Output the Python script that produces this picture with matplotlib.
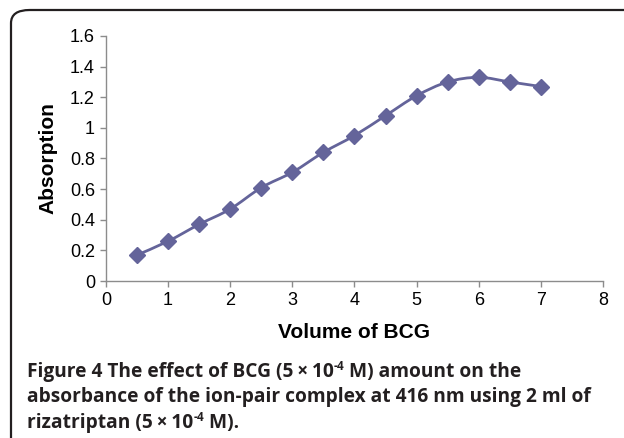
import matplotlib
matplotlib.use("Agg")
import matplotlib.pyplot as plt
from matplotlib.path import Path
from matplotlib.patches import PathPatch, FancyBboxPatch
import numpy as np

volume = [0.5, 1, 1.5, 2, 2.5, 3, 3.5, 4, 4.5, 5, 5.5, 6, 6.5, 7]
absorption = [0.17, 0.26, 0.37, 0.47, 0.61, 0.71, 0.84, 0.95, 1.08, 1.21, 1.30, 1.33, 1.30, 1.27]
x_ticks = [0, 1, 2, 3, 4, 5, 6, 7, 8]
y_ticks = [0, 0.2, 0.4, 0.6, 0.8, 1, 1.2, 1.4, 1.6]
y_ticklabels = ["0", "0.2", "0.4", "0.6", "0.8", "1", "1.2", "1.4", "1.6"]

W, H = 624, 438
fig = plt.figure(figsize=(W / 100, H / 100), dpi=100)
fig.patch.set_facecolor("white")

# rounded border
border = FancyBboxPatch((11 / W, -0.2), 1.2, (H - 10) / H + 0.2,
                        boxstyle="round,pad=0,rounding_size=0.03",
                        transform=fig.transFigure, fill=False,
                        edgecolor="#231f20", linewidth=1.6, clip_on=False)
fig.patches.append(border)

ax = fig.add_axes([106 / W, 1 - 281 / H, (603 - 106) / W, (281 - 36) / H])
ax.set_xlim(0, 8)
ax.set_ylim(0, 1.6)

color = "#64649a"
pts = np.column_stack([volume, absorption])
verts = [tuple(pts[0])]
codes = [Path.MOVETO]
n = len(pts)
for i in range(n - 1):
    p0 = pts[i - 1] if i > 0 else pts[i]
    p1 = pts[i]
    p2 = pts[i + 1]
    p3 = pts[i + 2] if i + 2 < n else pts[i + 1]
    c1 = p1 + (p2 - p0) / 6
    c2 = p2 - (p3 - p1) / 6
    verts += [tuple(c1), tuple(c2), tuple(p2)]
    codes += [Path.CURVE4] * 3
ax.add_patch(PathPatch(Path(verts, codes), fill=False, edgecolor=color, linewidth=2, zorder=2))
ax.plot(volume, absorption, linestyle="none", marker="D", markersize=8,
        color=color, markeredgecolor=color, zorder=3)

for s in ["top", "right"]:
    ax.spines[s].set_visible(False)
for s in ["left", "bottom"]:
    ax.spines[s].set_color("#8c8c8c")
    ax.spines[s].set_linewidth(1)

font = "Liberation Sans"
ax.set_xticks(x_ticks)
ax.set_xticklabels([str(t) for t in x_ticks], fontfamily=font, fontsize=13)
ax.set_yticks(y_ticks)
ax.set_yticklabels(y_ticklabels, fontfamily=font, fontsize=13)
ax.tick_params(axis="both", direction="out", length=4, width=1, color="#8c8c8c",
               labelcolor="#000000", pad=4)

ax.set_xlabel("Volume of BCG", fontfamily=font, fontsize=15, fontweight="bold", labelpad=10)
ax.set_ylabel("Absorption", fontfamily=font, fontsize=15, fontweight="bold", labelpad=9)

cap_font = "Open Sans"
cap_color = "#231f20"
fs = 13.8
renderer = fig.canvas.get_renderer()


def draw_runs(x_px, y_px, runs):
    x = x_px
    for txt, size, dy in runs:
        t = fig.text(x / W, 1 - (y_px - dy) / H, txt, fontsize=size, fontweight="bold",
                     color=cap_color, va="baseline", ha="left", fontfamily=cap_font)
        bb = t.get_window_extent(renderer=renderer)
        x = bb.x1


sup = fs * 0.62
draw_runs(27, 377, [
    ("Figure 4 The effect of BCG (5\u2009\u00d7\u200910", fs, 0),
    ("-4", sup, 7),
    (" M) amount on the", fs, 0),
])
draw_runs(27, 402, [
    ("absorbance of the ion-pair complex at 416 nm using 2 ml of", fs, 0),
])
draw_runs(27, 428, [
    ("rizatriptan (5\u2009\u00d7\u200910", fs, 0),
    ("-4", sup, 7),
    (" M).", fs, 0),
])

fig.savefig("out.png", dpi=100)
